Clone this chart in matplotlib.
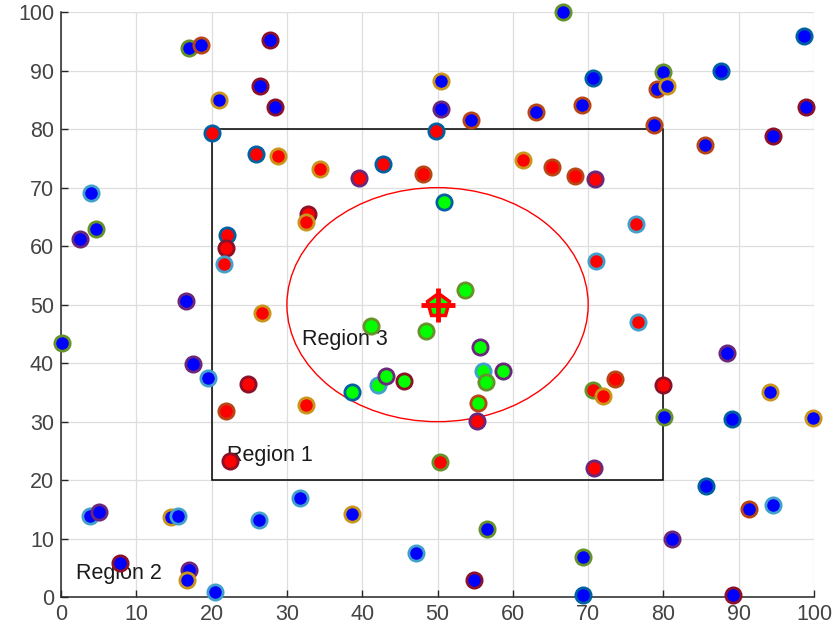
import numpy as np
import matplotlib
matplotlib.use("Agg")
import matplotlib.pyplot as plt
from matplotlib.patches import Rectangle, Ellipse

plt.rcParams["font.family"] = ["Liberation Sans", "DejaVu Sans"]

# ── Data ──────────────────────────────────────────────────────────────────────
x = [0.2, 4.0, 4.6, 2.5, 17.0, 18.6, 27.7, 21.0, 26.4, 28.4, 16.6,
     20.1, 25.9, 28.8, 34.4, 39.6, 42.7, 48.1, 32.8, 32.6, 22.0, 21.9, 21.6, 26.7,
     66.7, 98.7, 50.4, 70.7, 79.9, 79.1, 80.5, 87.6, 50.4, 54.5, 63.1, 69.2,
     78.8, 98.9, 94.6, 85.5, 49.8, 61.4, 65.2, 68.2, 70.9, 50.8, 76.4, 71.1, 53.7,
     17.5, 19.5, 24.9, 21.9, 32.5, 22.4, 41.2, 38.7, 42.1, 43.2, 45.5, 48.5,
     3.8, 5.0, 14.6, 15.6, 26.3, 31.7, 38.6, 7.8, 17.0, 16.8, 20.5, 47.1,
     76.6, 55.6, 56.1, 56.4, 58.7, 55.4, 55.2, 50.3, 70.8, 70.7, 72.0, 73.5, 79.9,
     88.4, 94.2, 80.1, 89.1, 99.9, 85.7, 91.3, 94.6, 81.1, 56.6, 69.3, 54.8, 69.3, 89.2]
y = [43.5, 69.1, 63.0, 61.3, 93.8, 94.4, 95.2, 84.9, 87.4, 83.8, 50.6,
     79.4, 75.7, 75.4, 73.2, 71.7, 74.0, 72.4, 65.5, 64.2, 61.9, 59.6, 56.9, 48.6,
     100.0, 96.0, 88.3, 88.8, 89.8, 86.8, 87.4, 89.9, 83.5, 81.6, 82.9, 84.2,
     80.7, 83.8, 78.9, 77.3, 79.7, 74.7, 73.5, 72.0, 71.5, 67.6, 63.7, 57.5, 52.5,
     39.9, 37.4, 36.4, 31.8, 32.9, 23.3, 46.3, 35.0, 36.2, 37.8, 37.0, 45.5,
     13.9, 14.5, 13.7, 13.8, 13.2, 17.0, 14.2, 5.8, 4.6, 3.0, 0.9, 7.5,
     47.0, 42.7, 38.6, 36.8, 38.7, 33.2, 30.1, 23.1, 22.0, 35.4, 34.4, 37.3, 36.2,
     41.7, 35.1, 30.8, 30.5, 30.7, 19.0, 15.0, 15.7, 10.0, 11.7, 6.8, 3.0, 0.3, 0.3]
# edge colour group (index into MATLAB default colour order)
group = [4, 5, 4, 3, 4, 1, 6, 2, 6, 6, 3,
         0, 0, 2, 2, 3, 0, 1, 6, 2, 0, 6, 5, 2,
         4, 0, 2, 0, 4, 1, 2, 0, 3, 1, 1, 1,
         1, 6, 6, 1, 0, 2, 1, 1, 3, 0, 5, 5, 4,
         3, 5, 6, 1, 2, 6, 4, 0, 5, 3, 6, 4,
         5, 3, 2, 5, 5, 5, 2, 6, 3, 2, 5, 5,
         5, 3, 5, 4, 3, 1, 3, 4, 3, 4, 2, 1, 6,
         3, 2, 4, 0, 2, 0, 1, 5, 3, 4, 4, 6, 0, 6]

rect = (20, 20, 60, 60)        # Region 1: x0, y0, w, h
center = (50, 50)
radius = 20                    # Region 3

matlab_colors = [(0, 0.447, 0.741), (0.85, 0.325, 0.098), (0.929, 0.694, 0.125),
                 (0.494, 0.184, 0.556), (0.466, 0.674, 0.188), (0.301, 0.745, 0.933),
                 (0.635, 0.078, 0.184)]

# ── Figure ────────────────────────────────────────────────────────────────────
fig = plt.figure(figsize=(8.35, 6.38), dpi=100)
ax = fig.add_axes([0.073, 0.064, 0.902, 0.917])

ax.add_patch(Rectangle(rect[:2], rect[2], rect[3], fill=False, ec="k", lw=1.1, zorder=2))
ax.add_patch(Ellipse(center, 2 * radius, 2 * radius, fill=False, ec="red", lw=1.0, zorder=2))

ax.text(22, 24.3, "Region 1", fontsize=15.5, va="center", color="#1a1a1a", zorder=2)
ax.text(2, 4.0, "Region 2", fontsize=15.5, va="center", color="#1a1a1a", zorder=2)
ax.text(32, 44.0, "Region 3", fontsize=15.5, va="center", color="#1a1a1a", zorder=2)

x0, y0, w, h = rect
for xi, yi, g in zip(x, y, group):
    if np.hypot(xi - center[0], yi - center[1]) < radius:
        face = (0, 1, 0)
    elif x0 <= xi <= x0 + w and y0 <= yi <= y0 + h:
        face = (1, 0, 0)
    else:
        face = (0, 0, 1)
    edge = tuple(0.85 * c for c in matlab_colors[g])
    ax.plot(xi, yi, "o", ms=11, mfc=face, mec=edge, mew=2.0,
            zorder=3, clip_on=False)

ax.plot(*center, "p", ms=17, mfc=(0, 1, 0), mec="red", mew=2.5, zorder=4)
ax.plot(*center, "+", ms=25, mec="red", mew=3.5, zorder=4)

ax.set_xlim(0, 100)
ax.set_ylim(0, 100)
ax.set_xticks(range(0, 101, 10))
ax.set_yticks(range(0, 101, 10))
ax.grid(True, color="#dedede", lw=0.9)
ax.set_axisbelow(True)
for s in ["top", "right"]:
    ax.spines[s].set_visible(False)
for s in ["left", "bottom"]:
    ax.spines[s].set_color("#262626")
    ax.spines[s].set_linewidth(1.1)
ax.tick_params(direction="in", length=5, width=1, colors="#262626",
               labelcolor="#444444", labelsize=15.5, pad=5)

fig.savefig("out.png", dpi=100)
